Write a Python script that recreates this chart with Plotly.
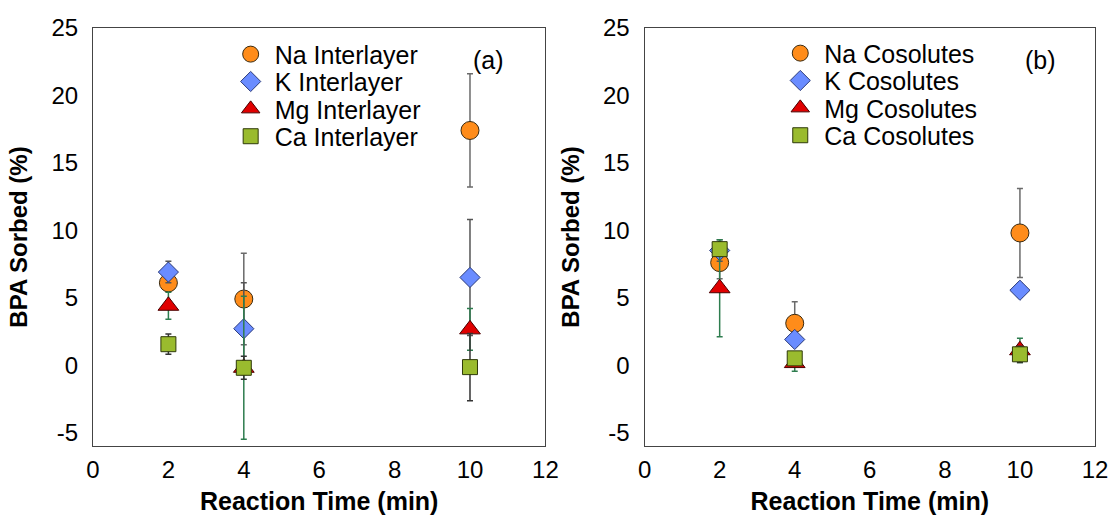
import plotly.graph_objects as go

# ---- data ----
time_min = [2, 4, 10]

na_inter = [6.1, 4.9, 17.4]
na_inter_err = [0.6, 3.4, 4.2]
k_inter = [6.9, 2.7, 6.5]
k_inter_err = [0.8, 3.4, 4.3]
mg_inter = [4.4, -0.2, 2.65]
mg_inter_err = [1.0, 5.3, 1.55]
ca_inter = [1.55, -0.2, -0.15]
ca_inter_err = [0.75, 0.85, 2.5]

na_coso = [7.6, 3.1, 9.8]
na_coso_err = [1.2, 1.6, 3.3]
k_coso = [8.5, 1.9, 5.55]
k_coso_err = [0.8, 0.5, 0.5]
mg_coso = [5.7, 0.15, 1.1]
mg_coso_err = [3.6, 0.6, 0.9]
ca_coso = [8.6, 0.5, 0.8]
ca_coso_err = [0.5, 0.4, 0.6]

labels_inter = ["Na Interlayer", "K Interlayer", "Mg Interlayer", "Ca Interlayer"]
labels_coso = ["Na Cosolutes", "K Cosolutes", "Mg Cosolutes", "Ca Cosolutes"]

x_ticks = [0, 2, 4, 6, 8, 10, 12]
y_ticks = [-5, 0, 5, 10, 15, 20, 25]
y_tick_text = ["-5", "0", "5", "10", "15", "20", "25"]

FONT = "Arial, Liberation Sans, sans-serif"

styles = [
    dict(symbol="circle", size=18, color="#FF8C1A", line="#3a2a10", err="#6a6a6a"),
    dict(symbol="diamond", size=15.5, color="#6A8CFF", line="#2a3a7a", err="#555555"),
    dict(symbol="triangle-up", size=18, color="#E00000", line="#4a0000", err="#2E7D4F"),
    dict(symbol="square", size=15, color="#9ABB2E", line="#2f3a0a", err="#333333"),
]

fig = go.Figure()

row_px = [54.5, 82, 109.5, 137]

def add(i, ys, errs, label, xa, ya, legend):
    s = styles[i]
    fig.add_trace(go.Scatter(
        x=time_min, y=ys, mode="markers", name=label,
        xaxis=xa, yaxis=ya, legend=legend,
        marker=dict(symbol=s["symbol"], size=s["size"], color=s["color"],
                    line=dict(color=s["line"], width=1)),
        error_y=dict(type="data", array=errs, visible=True, color=s["err"],
                     thickness=1.5, width=3),
    ))

inter_vals = [(na_inter, na_inter_err), (k_inter, k_inter_err), (mg_inter, mg_inter_err), (ca_inter, ca_inter_err)]
coso_vals = [(na_coso, na_coso_err), (k_coso, k_coso_err), (mg_coso, mg_coso_err), (ca_coso, ca_coso_err)]

for i, (v, e) in enumerate(inter_vals):
    add(i, v, e, labels_inter[i], "x", "y", "legend" if i == 0 else f"legend{i + 1}")
for i, (v, e) in enumerate(coso_vals):
    add(i, v, e, labels_coso[i], "x2", "y2", f"legend{i + 5}")

axis_common = dict(showgrid=False, zeroline=False, showline=True, linecolor="#444444",
                   linewidth=1.2, mirror=True, ticks="", tickfont=dict(size=24, color="#000"))

xdom1 = [0, 456 / 1010]
xdom2 = [556 / 1010, 1]

layout = dict(
    width=1120, height=522,
    margin=dict(l=93, r=17, t=28, b=74),
    paper_bgcolor="white", plot_bgcolor="white",
    font=dict(family=FONT, color="#000"),
    showlegend=True,
    xaxis=dict(domain=xdom1, range=[0, 12], tickvals=x_ticks, anchor="y", ticklabelstandoff=2,
               title=dict(text="<b>Reaction Time (min)</b>", font=dict(size=25), standoff=10),
               **axis_common),
    yaxis=dict(range=[-6, 25], tickvals=y_ticks, ticktext=y_tick_text, anchor="x", ticklabelstandoff=9,
               title=dict(text="<b>BPA Sorbed (%)</b>", font=dict(size=24), standoff=16),
               **axis_common),
    xaxis2=dict(domain=xdom2, range=[0, 12], tickvals=x_ticks, anchor="y2", ticklabelstandoff=2,
                title=dict(text="<b>Reaction Time (min)</b>", font=dict(size=25), standoff=10),
                **axis_common),
    yaxis2=dict(range=[-6, 25], tickvals=y_ticks, ticktext=y_tick_text, anchor="x2", ticklabelstandoff=9,
                title=dict(text="<b>BPA Sorbed (%)</b>", font=dict(size=24), standoff=16),
                **axis_common),
    annotations=[
        dict(text="(a)", x=10.49, y=22.6, xref="x", yref="y", showarrow=False, font=dict(size=25)),
        dict(text="(b)", x=10.55, y=22.6, xref="x2", yref="y2", showarrow=False, font=dict(size=25)),
    ],
)

def leg(xpaper, ypx):
    return dict(x=xpaper, y=1 - (ypx - 28) / 420, xanchor="left", yanchor="middle",
                bgcolor="rgba(0,0,0,0)", font=dict(size=25), itemwidth=38)

for i in range(4):
    layout["legend" if i == 0 else f"legend{i + 1}"] = leg(0.1334, row_px[i])
    layout[f"legend{i + 5}"] = leg(0.6819, row_px[i] - 1)

fig.update_layout(**layout)

fig.write_html("out.html", config={"displayModeBar": False},
               post_script="document.body.style.margin='0';document.body.style.overflow='hidden';")
